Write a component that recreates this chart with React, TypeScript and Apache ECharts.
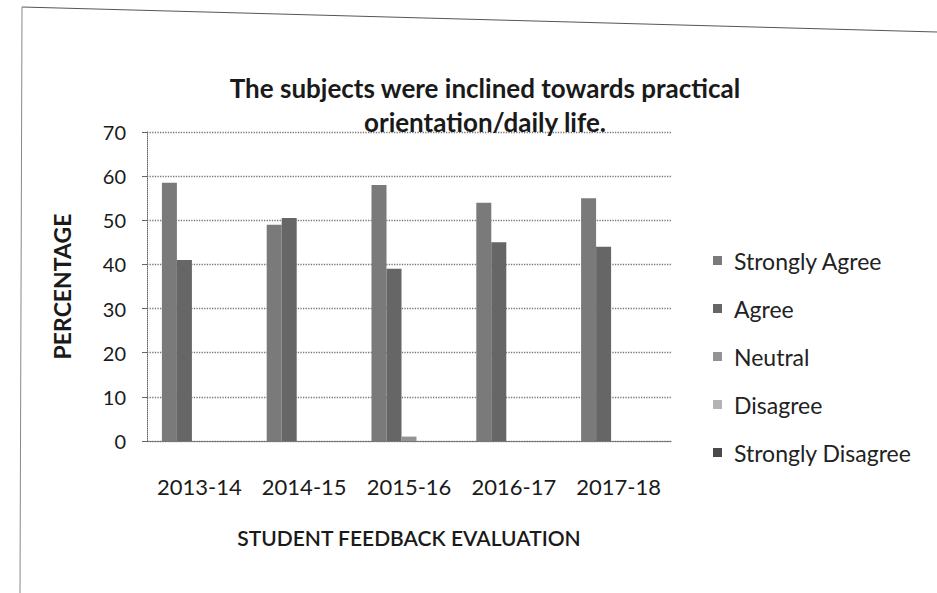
import React, { useEffect, useRef } from "react";
import * as echarts from "echarts";

const categories = ["2013-14", "2014-15", "2015-16", "2016-17", "2017-18"];
const seriesNames = ["Strongly Agree", "Agree", "Neutral", "Disagree", "Strongly Disagree"];
const stronglyAgree = [58.5, 49, 58, 54, 55];
const agree = [41, 50.5, 39, 45, 44];
const neutral = [0, 0, 1, 0, 0];
const disagree = [0, 0, 0, 0, 0];
const stronglyDisagree = [0, 0, 0, 0, 0];
const yTicks = [0, 10, 20, 30, 40, 50, 60, 70];

const colors = ["#7a7a7a", "#666666", "#939393", "#b3b3b3", "#4a4a4a"];

export default function App() {
  const ref = useRef<HTMLDivElement>(null);
  useEffect(() => {
    if (!ref.current) return;
    const chart = echarts.init(ref.current, null, { renderer: "svg" });
    const values = [stronglyAgree, agree, neutral, disagree, stronglyDisagree];
    const font = "Lato, 'Open Sans', sans-serif";
    chart.setOption({
      animation: false,
      backgroundColor: "#ffffff",
      textStyle: { fontFamily: font },
      title: {
        text: "The subjects were inclined towards practical\norientation/daily life.",
        left: 480,
        textAlign: "center",
        top: 66,
        textStyle: { fontSize: 26, fontWeight: "bold", color: "#1a1a1a", lineHeight: 34, fontFamily: font },
      },
      legend: {
        orient: "vertical",
        left: 708,
        top: 244,
        itemGap: 25,
        itemWidth: 9,
        itemHeight: 9,
        icon: "rect",
        data: seriesNames,
        textStyle: { fontSize: 23, color: "#222", fontFamily: font, padding: [0, 0, 0, 7] },
      },
      grid: { left: 147, right: 266, top: 132, bottom: 152 },
      xAxis: {
        type: "category",
        data: categories,
        name: "STUDENT FEEDBACK EVALUATION",
        nameLocation: "middle",
        nameGap: 86,
        nameTextStyle: { fontSize: 21, color: "#1a1a1a", fontWeight: 600, fontFamily: font },
        axisLine: { show: true, lineStyle: { color: "#777" } },
        axisTick: { show: false },
        axisLabel: { fontSize: 22, color: "#1a1a1a", margin: 34, interval: 0, hideOverlap: false },
      },
      yAxis: {
        type: "value",
        min: 0,
        max: 70,
        interval: 10,
        name: "PERCENTAGE",
        nameLocation: "middle",
        nameGap: 74,
        nameTextStyle: { fontSize: 23, fontWeight: "bold", color: "#1a1a1a", fontFamily: font },
        axisLine: { show: true, lineStyle: { color: "#666", type: "dotted" } },
        axisTick: { show: true, length: 5, lineStyle: { color: "#666" } },
        axisLabel: { fontSize: 20, color: "#1a1a1a", margin: 21, formatter: (v: number) => (yTicks.includes(v) ? String(v) : "") },
        splitLine: { show: true, lineStyle: { color: "#777", type: "dotted", width: 1.3 } },
      },
      series: seriesNames.map((name, i) => ({
        name,
        type: "bar",
        data: values[i],
        barWidth: 15,
        barGap: "0%",
        itemStyle: { color: colors[i] },
      })),
      graphic: [
        { type: "line", shape: { x1: 22, y1: 7, x2: 937, y2: 32 }, style: { stroke: "#555", lineWidth: 1 } },
        { type: "line", shape: { x1: 22, y1: 7, x2: 20, y2: 593 }, style: { stroke: "#888", lineWidth: 1 } },
      ],
    });
    return () => chart.dispose();
  }, []);
  return <div ref={ref} style={{ position: "fixed", left: 0, top: 0, width: 937, height: 593 }} />;
}
